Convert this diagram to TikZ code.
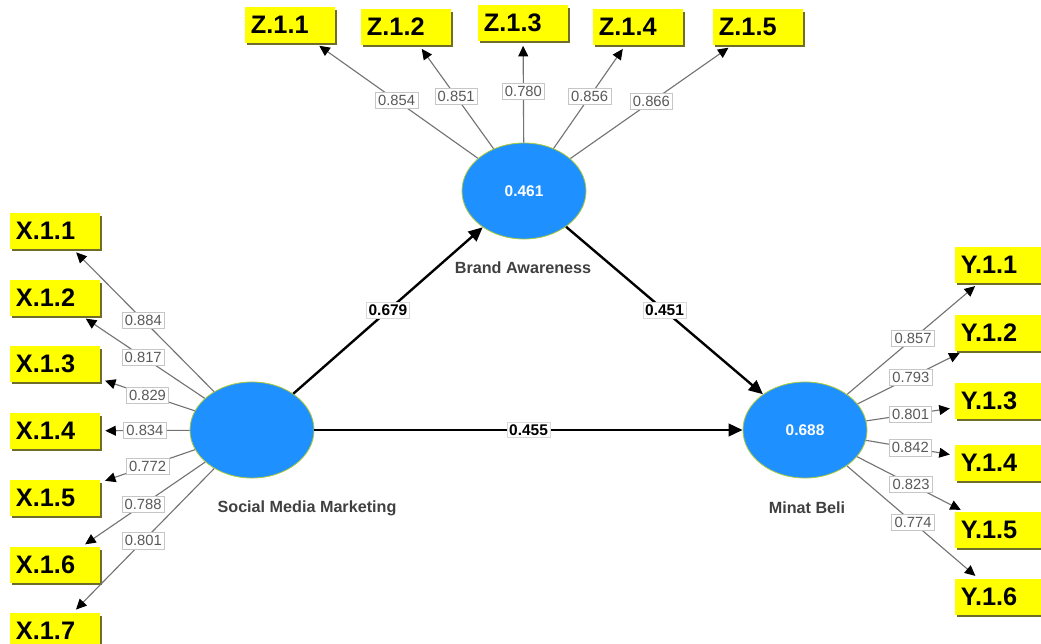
\documentclass[tikz,border=0pt]{standalone}
\usepackage{fontspec}
\setmainfont{Liberation Sans}
\usetikzlibrary{arrows.meta,shapes.geometric,shadows}
\definecolor{lvblue}{RGB}{30,144,255}
\definecolor{boxyel}{RGB}{255,255,0}
\definecolor{shadowol}{RGB}{110,110,40}
\definecolor{loadgray}{RGB}{115,115,115}
\definecolor{lvedge}{RGB}{170,200,60}
\begin{document}
\begin{tikzpicture}[x=0.025cm,y=-0.025cm,
  ind/.style={rectangle, fill=boxyel, text width=1.95cm, inner xsep=0.15cm, inner ysep=0pt,
    minimum height=0.88cm, align=left, font=\fontsize{18}{20}\selectfont\bfseries,
    drop shadow={shadow xshift=1.2pt, shadow yshift=-1.8pt, fill=shadowol, opacity=1}},
  lv/.style={ellipse, fill=lvblue, draw=lvedge, line width=0.6pt, minimum width=3.1cm,
    minimum height=2.4cm, inner sep=0pt, text=white, font=\fontsize{11}{13}\selectfont\bfseries},
  lvname/.style={font=\fontsize{11.5}{13}\selectfont\bfseries, text=black!75, inner sep=1pt},
  val/.style={fill=white, draw=gray!45, line width=0.5pt, inner sep=2pt,
    font=\fontsize{10.5}{12}\selectfont, text=black!65},
  pval/.style={fill=white, draw=gray!30, line width=0.4pt, inner sep=1.6pt,
    font=\fontsize{11}{13}\selectfont\bfseries, text=black},
  loading/.style={draw=loadgray, line width=0.8pt, shorten >=3.5pt,
    -{Triangle[length=7.5pt,width=7pt,color=black]}},
  struct/.style={draw=black, line width=1.7pt, -{Triangle[length=10pt,width=9pt]}}]
\useasboundingbox (0,0) rectangle (1041,644);

% latent variables
\node[lv] (BA) at (524,191) {0.461};
\node[lv] (SMM) at (252,430) {};
\node[lv] (MB) at (805,430) {0.688};
\node[lvname] (BAn) at (523,268) {Brand Awareness};
\node[lvname] (SMMn) at (307,508) {Social Media Marketing};
\node[lvname] (MBn) at (807,508) {Minat Beli};

% indicators Z
\node[ind] (Z11) at (290,25) {Z.1.1};
\node[ind] (Z12) at (406,27) {Z.1.2};
\node[ind] (Z13) at (523,23) {Z.1.3};
\node[ind] (Z14) at (638,27) {Z.1.4};
\node[ind] (Z15) at (758,27) {Z.1.5};

% indicators X
\node[ind] (X11) at (55,231) {X.1.1};
\node[ind] (X12) at (55,298) {X.1.2};
\node[ind] (X13) at (55,364) {X.1.3};
\node[ind] (X14) at (55,431) {X.1.4};
\node[ind] (X15) at (55,498) {X.1.5};
\node[ind] (X16) at (55,565) {X.1.6};
\node[ind] (X17) at (55,631) {X.1.7};

% indicators Y
\node[ind] (Y11) at (1000,265) {Y.1.1};
\node[ind] (Y12) at (1000,333) {Y.1.2};
\node[ind] (Y13) at (1000,401) {Y.1.3};
\node[ind] (Y14) at (1000,463) {Y.1.4};
\node[ind] (Y15) at (1000,530) {Y.1.5};
\node[ind] (Y16) at (1000,597) {Y.1.6};

% loadings Z
\draw[loading] (BA) -- node[val] {0.854} (Z11);
\draw[loading] (BA) -- node[val] {0.851} (Z12);
\draw[loading] (BA) -- node[val] {0.780} (Z13);
\draw[loading] (BA) -- node[val] {0.856} (Z14);
\draw[loading] (BA) -- node[val] {0.866} (Z15);

% loadings X
\draw[loading] (SMM) -- node[val] {0.884} (X11);
\draw[loading] (SMM) -- node[val] {0.817} (X12);
\draw[loading] (SMM) -- node[val] {0.829} (X13);
\draw[loading] (SMM) -- node[val] {0.834} (X14);
\draw[loading] (SMM) -- node[val] {0.772} (X15);
\draw[loading] (SMM) -- node[val] {0.788} (X16);
\draw[loading] (SMM) -- node[val] {0.801} (X17);

% loadings Y
\draw[loading] (MB) -- node[val] {0.857} (Y11);
\draw[loading] (MB) -- node[val] {0.793} (Y12);
\draw[loading] (MB) -- node[val] {0.801} (Y13);
\draw[loading] (MB) -- node[val] {0.842} (Y14);
\draw[loading] (MB) -- node[val] {0.823} (Y15);
\draw[loading] (MB) -- node[val] {0.774} (Y16);

% structural paths
\draw[struct] (SMM) -- node[pval] {0.679} (BA);
\draw[struct] (BA) -- node[pval] {0.451} (MB);
\draw[struct] (SMM) -- node[pval] {0.455} (MB);
\end{tikzpicture}
\end{document}
